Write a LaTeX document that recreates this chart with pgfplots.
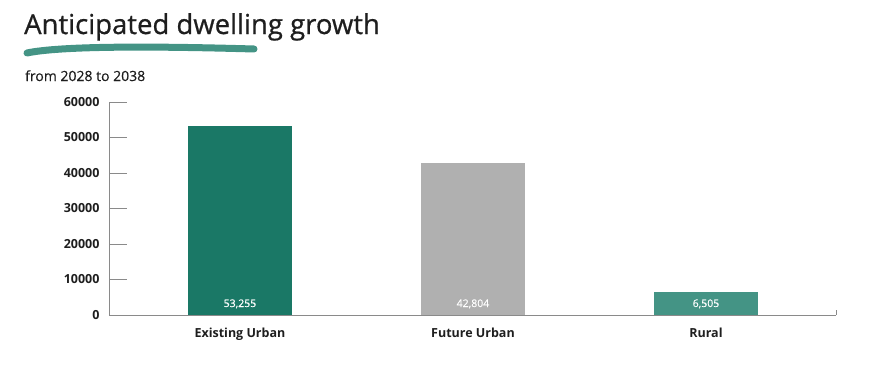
\documentclass[border=0pt]{standalone}
\usepackage{pgfplots}
\pgfplotsset{compat=1.18}
\usepackage{fontspec}
\setmainfont{Open Sans}
\newfontfamily\titlefont{Open Sans}[FakeBold=0.7]
\newfontfamily\medfont{Open Sans}[FakeBold=0.4]
\definecolor{darkteal}{HTML}{1A7866}
\definecolor{midteal}{HTML}{449485}
\definecolor{bargray}{HTML}{B0B0B0}
\definecolor{axgray}{HTML}{8A8A8A}
\definecolor{txt}{HTML}{1E1E1E}
\begin{document}
\begin{tikzpicture}[x=1pt,y=1pt]
\useasboundingbox (0,0) rectangle (885,-380);
\node[anchor=base west, inner sep=0, font=\titlefont\fontsize{27.5}{32}\selectfont, text=txt] at (24,-34) {Anticipated dwelling growth};
\draw[midteal, line width=7pt, line cap=round] (27,-53) .. controls (60,-46) and (150,-46) .. (254,-49);
\node[anchor=base west, inner sep=0, font=\medfont\fontsize{14}{16}\selectfont, text=txt] at (25,-81) {from 2028 to 2038};
\begin{axis}[
  at={(109pt,-315pt)}, anchor=south west,
  scale only axis, width=727pt, height=213pt,
  xmin=-0.562, xmax=2.558, ymin=0, ymax=60000,
  axis lines=left, axis line style={-, axgray, line width=0.8pt},
  ytick={0,10000,20000,30000,40000,50000,60000},
  scaled y ticks=false,
  xtick={0,1,2}, xticklabels={Existing Urban, Future Urban, Rural},
  x tick style={draw=none},
  y tick style={axgray, line width=0.8pt},
  tick align=inside, major tick length=18pt,
  /pgf/number format/assume math mode=true,
  /pgf/number format/1000 sep={},
  yticklabel style={font=\fontsize{12.5}{14}\selectfont\bfseries, text=txt, xshift=-6pt},
  xticklabel style={font=\fontsize{12.5}{14}\selectfont\bfseries, text=txt, yshift=9pt},
  ybar, bar width=104pt, bar shift=0pt,
  clip=false,
]
\addplot[fill=darkteal, draw=none] coordinates {(0,53255)};
\addplot[fill=bargray, draw=none] coordinates {(1,42804)};
\addplot[fill=midteal, draw=none] coordinates {(2,6505)};
\addplot[draw=none, fill=none, point meta=explicit symbolic,
  nodes near coords, nodes near coords align={vertical},
  every node near coord/.style={anchor=base, text=white, font=\medfont\fontsize{10.5}{13}\selectfont, yshift=8pt}]
  coordinates {(0,0) [53,255] (1,0) [42,804] (2,0) [6,505]};
\draw[axgray, line width=0.8pt] (axis cs:2.558,0) -- (axis cs:2.558,1400);
\end{axis}
\end{tikzpicture}
\end{document}
